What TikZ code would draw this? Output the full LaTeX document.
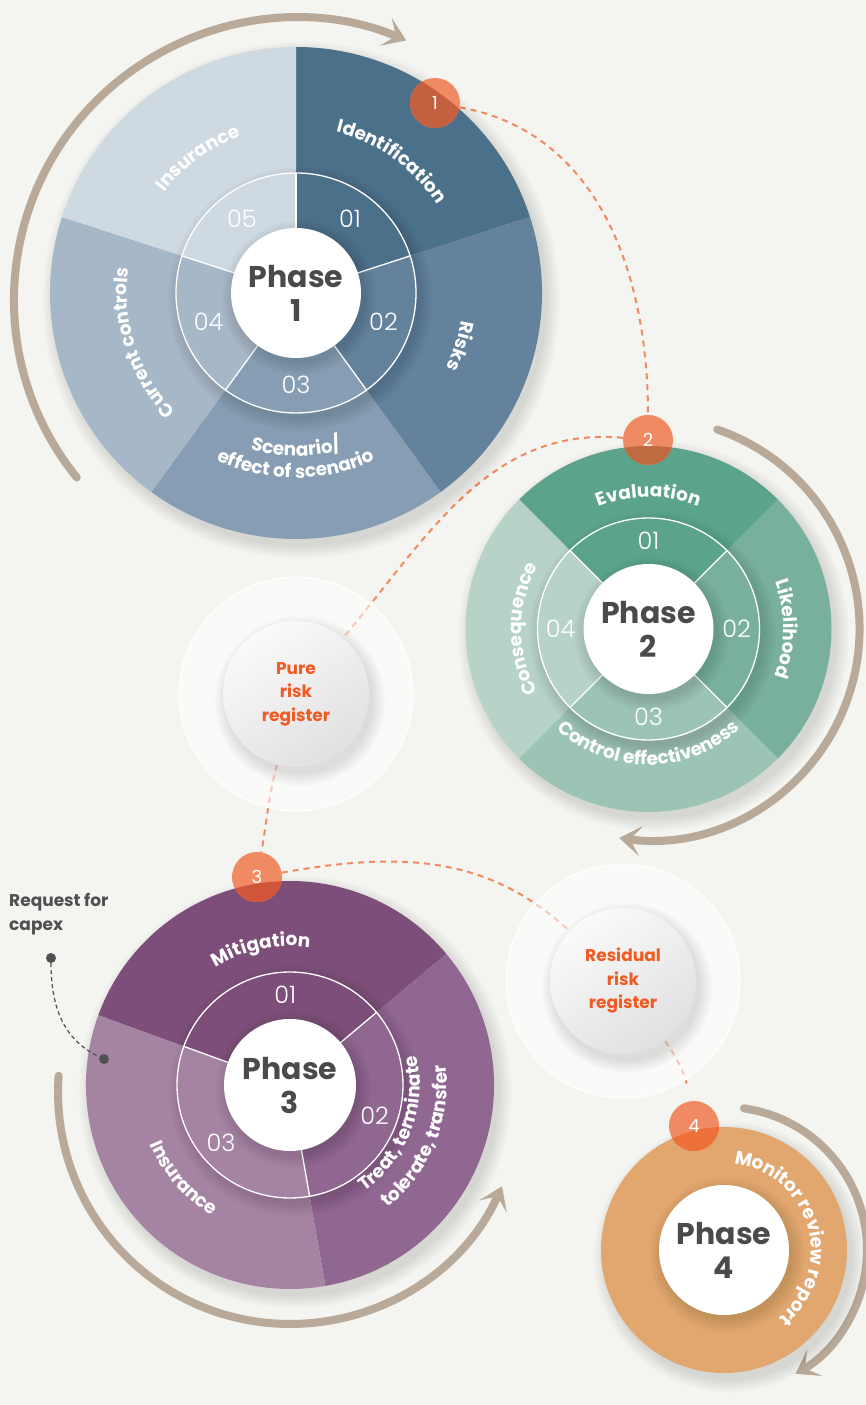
\documentclass[tikz,border=0pt]{standalone}
\usepackage{fontspec}
\setmainfont{Poppins}
\newfontfamily\numfont{Poppins Light}
\usetikzlibrary{arrows.meta,calc,decorations.text}

\pgfdeclarelayer{paper}
\pgfdeclarelayer{links}
\pgfsetlayers{paper,links,main}

\definecolor{paper}{HTML}{F4F4F0}
\definecolor{flowgrey}{HTML}{B8A998}
\definecolor{linkorange}{HTML}{F08A62}
\definecolor{badgeorange}{HTML}{F08A62}
\definecolor{regorange}{HTML}{F15A22}
\definecolor{hubgrey}{HTML}{4A4A4C}
\definecolor{capexgrey}{HTML}{505052}
% phase 1
\definecolor{pa}{HTML}{4B7089}
\definecolor{pb}{HTML}{64829C}
\definecolor{pc}{HTML}{869DB3}
\definecolor{pd}{HTML}{A6B7C8}
\definecolor{pe}{HTML}{CFD9E2}
% phase 2
\definecolor{qa}{HTML}{5BA38A}
\definecolor{qb}{HTML}{79B09D}
\definecolor{qc}{HTML}{9BC4B5}
\definecolor{qd}{HTML}{B7D3C8}
% phase 3
\definecolor{ra}{HTML}{7C4E79}
\definecolor{rb}{HTML}{8F6790}
\definecolor{rc}{HTML}{A583A2}
% phase 4
\definecolor{sa}{HTML}{E2A66F}
% badge overlaps
\definecolor{bda}{HTML}{C2603F}
\definecolor{bdb}{HTML}{C06A42}
\definecolor{bdc}{HTML}{D0553A}
\definecolor{bdd}{HTML}{EC7038}

\tikzset{
  flow/.style={line width=8pt,flowgrey,line cap=round,
    -{Stealth[length=22pt,width=30pt,inset=11pt]}},
  link/.style={linkorange,line width=2pt,dash pattern=on 6pt off 5pt},
  rim/.style={white,line width=1.3pt},
  hub/.style={circle,fill=white,minimum size=130pt,inner sep=0pt,align=center,
    text=hubgrey,font=\fontsize{30}{34}\selectfont\bfseries},
  num/.style={text=white,font=\fontsize{24}{24}\selectfont\numfont},
  badge/.style={circle,minimum size=50pt,inner sep=0pt,text=white,
    font=\fontsize{18}{18}\selectfont},
  ball/.style={circle,minimum size=146pt,inner sep=0pt,align=center,
    top color=white!98!black,bottom color=white!88!black,shading angle=35,
    text=regorange,font=\fontsize{17}{23.5}\selectfont\bfseries},
  capex/.style={align=left,text=capexgrey,inner sep=0pt,
    font=\fontsize{17}{24}\selectfont\bfseries},
  dot/.style={circle,fill=capexgrey,minimum size=10pt,inner sep=0pt}
}

% label bent round a wheel: centre, radius, from, to, text
\newcommand{\bentlabel}[5]{%
  \path[decorate,decoration={text along path,text align=center,text color=white,
    text={|\fontsize{18.5}{18.5}\selectfont\bfseries|#5}}]
    ($(#1)+(#3:#2)$) arc[start angle=#3,end angle=#4,radius=#2];}

% soft shadow under a disc: centre, radius, offset
\newcommand{\softshadow}[3]{%
  \foreach \k in {0,...,9}
    \fill[black,opacity=0.012] ($(#1)+(#3)$) circle[radius=#2+\k*1.4];}

\begin{document}
\begin{tikzpicture}[x=1pt,y=1pt]
\begin{pgfonlayer}{paper}
  \fill[paper] (0,0) rectangle (866,1405);
\end{pgfonlayer}
\useasboundingbox (0,0) rectangle (866,1405);

\coordinate (c1) at (296,1112);
\coordinate (c2) at (648.5,776);
\coordinate (c3) at (290,320);
\coordinate (c4) at (724,155);

% grey flow arrows round the wheels
\draw[flow] (76.8,927.5) arc[start angle=219,end angle=67,radius=282];
\draw[flow] (717.2,975.5) arc[start angle=71,end angle=-98,radius=211];
\draw[flow] (58.6,329.2) arc[start angle=176,end angle=336,radius=232];
\draw[flow] (743.9,296.6) arc[start angle=82,end angle=-60,radius=143];

% registers
\fill[white,opacity=0.55] (296,711) circle[radius=117];
\draw[white,line width=1pt] (296,711) circle[radius=117];
\softshadow{296,711}{73}{4,-7}
\node[ball] (pure) at (296,711) {Pure\\risk\\register};
\fill[white,opacity=0.55] (623,424) circle[radius=117];
\draw[white,line width=1pt] (623,424) circle[radius=117];
\softshadow{623,424}{73}{4,-7}
\node[ball] (res) at (623,424) {Residual\\risk\\register};

% phase 1
\softshadow{c1}{246}{5,-7}
\foreach \a/\b/\col in {18/90/pa,-54/18/pb,-126/-54/pc,162/234/pd,90/162/pe}
  \fill[\col] (c1) -- ++(\a:246) arc[start angle=\a,end angle=\b,radius=246] -- cycle;
\begin{scope}
  \clip (c1) circle[radius=246];
  \softshadow{c1}{120}{4,-6}
\end{scope}
\foreach \a/\b/\col in {18/90/pa,-54/18/pb,-126/-54/pc,162/234/pd,90/162/pe}
  \fill[\col] (c1) -- ++(\a:120) arc[start angle=\a,end angle=\b,radius=120] -- cycle;
\draw[rim] (c1) circle[radius=120];
\foreach \a in {18,90,162,234,306}
  \draw[rim] ($(c1)+(\a:65)$) -- ($(c1)+(\a:120)$);
\begin{scope}
  \clip (c1) circle[radius=120];
  \softshadow{c1}{65}{3,-5}
\end{scope}
\node[hub] (ph1) at (c1) {Phase\\1};
\node[num] (n11) at ($(c1)+(54:92)$) {01};
\node[num] (n12) at ($(c1)+(-18:92)$) {02};
\node[num] (n13) at ($(c1)+(-90:92)$) {03};
\node[num] (n14) at ($(c1)+(198:92)$) {04};
\node[num] (n15) at ($(c1)+(126:92)$) {05};
\bentlabel{c1}{166}{94}{14}{Identification}
\bentlabel{c1}{168}{22}{-58}{Risks}
\bentlabel{c1}{163}{-130}{-50}{Scenario/}
\bentlabel{c1}{185}{-135}{-45}{effect of scenario}
\bentlabel{c1}{169}{243}{153}{Current controls}
\bentlabel{c1}{166}{166}{86}{Insurance}

% phase 2
\softshadow{c2}{183}{5,-7}
\foreach \a/\b/\col in {45/135/qa,-45/45/qb,-135/-45/qc,135/225/qd}
  \fill[\col] (c2) -- ++(\a:183) arc[start angle=\a,end angle=\b,radius=183] -- cycle;
\begin{scope}
  \clip (c2) circle[radius=183];
  \softshadow{c2}{111}{4,-6}
\end{scope}
\foreach \a/\b/\col in {45/135/qa,-45/45/qb,-135/-45/qc,135/225/qd}
  \fill[\col] (c2) -- ++(\a:111) arc[start angle=\a,end angle=\b,radius=111] -- cycle;
\draw[rim] (c2) circle[radius=111];
\foreach \a in {45,135,225,315}
  \draw[rim] ($(c2)+(\a:65)$) -- ($(c2)+(\a:111)$);
\begin{scope}
  \clip (c2) circle[radius=111];
  \softshadow{c2}{65}{3,-5}
\end{scope}
\node[hub] (ph2) at (c2) {Phase\\2};
\node[num] (n21) at ($(c2)+(90:88)$) {01};
\node[num] (n22) at ($(c2)+(0:88)$) {02};
\node[num] (n23) at ($(c2)+(-90:88)$) {03};
\node[num] (n24) at ($(c2)+(180:88)$) {04};
\bentlabel{c2}{132}{135}{45}{Evaluation}
\bentlabel{c2}{135}{45}{-45}{Likelihood}
\bentlabel{c2}{136}{-145}{-35}{Control effectiveness}
\bentlabel{c2}{127}{225}{135}{Consequence}

% phase 3
\softshadow{c3}{204}{5,-7}
\foreach \a/\b/\col in {40/160/ra,-80/40/rb,160/280/rc}
  \fill[\col] (c3) -- ++(\a:204) arc[start angle=\a,end angle=\b,radius=204] -- cycle;
\begin{scope}
  \clip (c3) circle[radius=204];
  \softshadow{c3}{113}{4,-6}
\end{scope}
\foreach \a/\b/\col in {40/160/ra,-80/40/rb,160/280/rc}
  \fill[\col] (c3) -- ++(\a:113) arc[start angle=\a,end angle=\b,radius=113] -- cycle;
\draw[rim] (c3) circle[radius=113];
\foreach \a in {40,160,280}
  \draw[rim] ($(c3)+(\a:65)$) -- ($(c3)+(\a:113)$);
\begin{scope}
  \clip (c3) circle[radius=113];
  \softshadow{c3}{66}{3,-5}
\end{scope}
\node[hub,minimum size=132pt] (ph3) at (c3) {Phase\\3};
\node[num] (n31) at ($(c3)+(93:90)$) {01};
\node[num] (n32) at ($(c3)+(-20:90)$) {02};
\node[num] (n33) at ($(c3)+(220:90)$) {03};
\bentlabel{c3}{139}{147}{57}{Mitigation}
\bentlabel{c3}{130}{-66}{24}{Treat, terminate}
\bentlabel{c3}{157}{-67}{23}{tolerate, transfer}
\bentlabel{c3}{152}{176}{266}{Insurance}

% phase 4
\softshadow{c4}{123}{5,-7}
\fill[sa] (c4) circle[radius=123];
\begin{scope}
  \clip (c4) circle[radius=123];
  \softshadow{c4}{65}{3,-5}
\end{scope}
\node[hub] (ph4) at (c4) {Phase\\4};
\bentlabel{c4}{87}{100}{-68}{Monitor review report}

% numbered badges
\fill[badgeorange] (435,1302) circle[radius=25];
\begin{scope}
  \clip (c1) circle[radius=246];
  \fill[bda] (435,1302) circle[radius=25];
\end{scope}
\node[badge] (b1) at (435,1302) {1};
\fill[badgeorange] (648,965) circle[radius=25];
\begin{scope}
  \clip (c2) circle[radius=183];
  \fill[bdb] (648,965) circle[radius=25];
\end{scope}
\node[badge] (b2) at (648,965) {2};
\fill[badgeorange] (257,528) circle[radius=25];
\begin{scope}
  \clip (c3) circle[radius=204];
  \fill[bdc] (257,528) circle[radius=25];
\end{scope}
\node[badge] (b3) at (257,528) {3};
\fill[badgeorange] (694,279) circle[radius=25];
\begin{scope}
  \clip (c4) circle[radius=123];
  \fill[bdd] (694,279) circle[radius=25];
\end{scope}
\node[badge] (b4) at (694,279) {4};

% capex note
\node[capex,anchor=north west] (req) at (9,512) {Request for\\capex};
\node[dot] (d1) at (51,447) {};
\node[dot] (d2) at (104,346) {};
\draw[capexgrey,line width=1.2pt,dash pattern=on 4pt off 3pt]
  (d1) to[out=-90,in=155] (d2);

% dashed links between the steps
\begin{pgfonlayer}{links}
  \draw[link] (b1) to[out=-10,in=90] (b2);
  \draw[link] (b2) to[out=175,in=50] (pure);
  \draw[link] (pure) to[out=-105,in=80] (b3);
  \draw[link] (b3) to[out=10,in=137] (res);
  \draw[link,shorten >=18pt] (res) to[out=-55,in=100] (b4);
\end{pgfonlayer}
\end{tikzpicture}
\end{document}
